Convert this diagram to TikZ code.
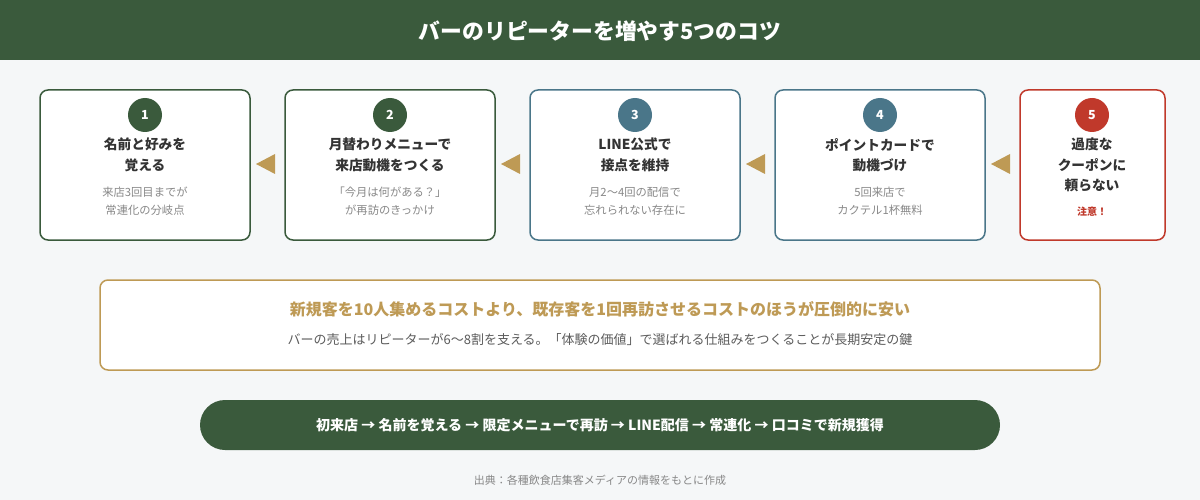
\documentclass[tikz,border=0pt]{standalone}
\usepackage{fontspec}
\setmainfont{Noto Sans CJK JP}
\definecolor{grn}{HTML}{3A5A3C}
\definecolor{blu}{HTML}{4A7689}
\definecolor{rd}{HTML}{C0392B}
\definecolor{gld}{HTML}{BE9A55}
\definecolor{bg}{HTML}{F5F7F8}
\definecolor{txt}{HTML}{333333}
\definecolor{sub}{HTML}{888888}
\begin{document}
\begin{tikzpicture}[x=1pt,y=-1pt,
 card/.style={draw=#1,line width=1.5pt,rounded corners=8pt,fill=white},
 num/.style={circle,fill=#1,minimum size=34pt,inner sep=0,text=white,font=\bfseries\fontsize{12.5}{12.5}\selectfont},
 ttl/.style={text=txt,font=\bfseries\fontsize{13.7}{20.5}\selectfont,align=center},
 st/.style={text=sub,font=\fontsize{11.3}{18}\selectfont,align=center},
 tri/.style={fill=gld}]
\useasboundingbox (0,0) rectangle (1200,500);
\fill[bg] (0,0) rectangle (1200,500);
\fill[grn] (0,0) rectangle (1200,60);
\node[text=white,font=\bfseries\fontsize{21.8}{21.8}\selectfont] (h) at (600,31) {バーのリピーターを増やす5つのコツ};
% cards
\draw[card=grn] (40,90) rectangle (250,240);
\draw[card=grn] (285,90) rectangle (495,240);
\draw[card=blu] (530,90) rectangle (740,240);
\draw[card=blu] (775,90) rectangle (985,240);
\draw[card=rd] (1020,90) rectangle (1165,240);
\node[num=grn] (n1) at (145,115) {1};
\node[num=grn] (n2) at (390,115) {2};
\node[num=blu] (n3) at (635,115) {3};
\node[num=blu] (n4) at (880,115) {4};
\node[num=rd] (n5) at (1092,115) {5};
\node[ttl] (t1) at (145,155) {名前と好みを\\覚える};
\node[ttl] (t2) at (390,155) {月替わりメニューで\\来店動機をつくる};
\node[ttl] (t3) at (635,155) {LINE公式で\\接点を維持};
\node[ttl] (t4) at (880,155) {ポイントカードで\\動機づけ};
\node[ttl] (t5) at (1092,165) {過度な\\クーポンに\\頼らない};
\node[st] (s1) at (145,201) {来店3回目までが\\常連化の分岐点};
\node[st] (s2) at (390,201) {「今月は何がある？」\\が再訪のきっかけ};
\node[st] (s3) at (635,201) {月2〜4回の配信で\\忘れられない存在に};
\node[st] (s4) at (880,201) {5回来店で\\カクテル1杯無料};
\node[text=rd,font=\bfseries\fontsize{10}{10}\selectfont] (s5) at (1092,212) {注意！};
\foreach \x in {256,501,746,991}
  \fill[tri] (\x,164) -- (\x+19,154) -- (\x+19,174) -- cycle;
% gold box
\draw[draw=gld,line width=1.5pt,rounded corners=8pt,fill=white] (100,280) rectangle (1100,370);
\node[text=gld,font=\bfseries\fontsize{16}{16}\selectfont] (g1) at (600,309) {新規客を10人集めるコストより、既存客を1回再訪させるコストのほうが圧倒的に安い};
\node[text=txt!80,font=\fontsize{13}{13}\selectfont] (g2) at (600,340) {バーの売上はリピーターが6〜8割を支える。「体験の価値」で選ばれる仕組みをつくることが長期安定の鍵};
% pill
\fill[grn,rounded corners=25pt] (200,400) rectangle (1000,450);
\node[text=white,font=\bfseries\fontsize{14}{14}\selectfont] (p) at (600,425) {初来店 → 名前を覚える → 限定メニューで再訪 → LINE配信 → 常連化 → 口コミで新規獲得};
\node[text=sub,font=\fontsize{11}{11}\selectfont] (src) at (600,480) {出典：各種飲食店集客メディアの情報をもとに作成};
\end{tikzpicture}
\end{document}
